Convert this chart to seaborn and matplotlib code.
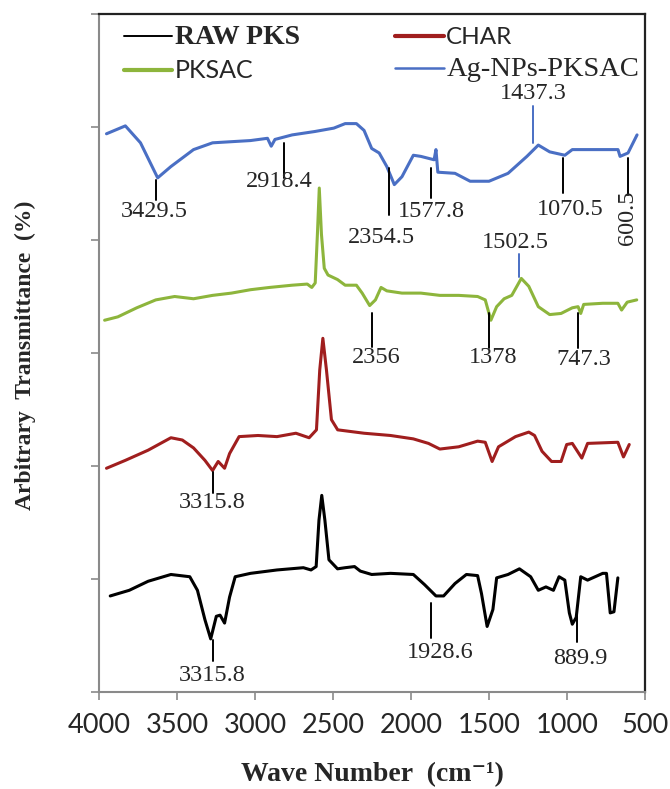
import matplotlib
matplotlib.use("Agg")
import numpy as np
import pandas as pd
import matplotlib.pyplot as plt
from matplotlib.lines import Line2D
from matplotlib.font_manager import FontProperties
import seaborn as sns

# FTIR traces, offset vertically (arbitrary units)
wn_raw = [3928, 3806, 3685, 3539, 3418, 3369, 3321, 3284, 3248, 3224, 3195, 3163, 3127, 3029,
          2859, 2690, 2641, 2608, 2590, 2572, 2552, 2526, 2471, 2422, 2362, 2325, 2252, 2131,
          1985, 1913, 1840, 1791, 1718, 1645, 1573, 1548, 1512, 1475, 1451, 1378, 1305, 1233,
          1184, 1135, 1087, 1051, 1014, 985, 966, 941, 912, 868, 771, 747, 723, 699, 674]
raw = [0.85, 0.90, 0.98, 1.04, 1.02, 0.90, 0.64, 0.47, 0.67, 0.68, 0.61, 0.84, 1.02, 1.05,
       1.08, 1.10, 1.08, 1.11, 1.52, 1.74, 1.52, 1.17, 1.09, 1.10, 1.11, 1.07, 1.04, 1.05,
       1.04, 0.95, 0.85, 0.85, 0.96, 1.04, 1.03, 0.87, 0.58, 0.73, 1.01, 1.04, 1.09, 1.02,
       0.90, 0.93, 0.90, 1.02, 0.99, 0.70, 0.60, 0.66, 1.02, 0.99, 1.05, 1.05, 0.70, 0.71, 1.01]

wn_char = [3952, 3831, 3685, 3539, 3466, 3394, 3321, 3272, 3236, 3195, 3163, 3102, 2981, 2859,
           2738, 2653, 2606, 2585, 2565, 2542, 2510, 2470, 2301, 2131, 1985, 1888, 1815, 1694,
           1573, 1524, 1480, 1439, 1330, 1245, 1208, 1160, 1099, 1038, 1002, 966, 905, 868,
           674, 638, 601]
char = [1.98, 2.05, 2.14, 2.25, 2.23, 2.16, 2.05, 1.96, 2.04, 1.98, 2.11, 2.26, 2.27, 2.26,
        2.29, 2.25, 2.32, 2.85, 3.13, 2.85, 2.41, 2.32, 2.29, 2.27, 2.24, 2.20, 2.15, 2.17,
        2.22, 2.21, 2.04, 2.17, 2.26, 2.30, 2.27, 2.13, 2.04, 2.04, 2.19, 2.20, 2.07, 2.20,
        2.21, 2.08, 2.19]

wn_pksac = [3964, 3879, 3758, 3636, 3515, 3394, 3272, 3151, 3029, 2908, 2762, 2665, 2636,
            2614, 2600, 2588, 2574, 2556, 2532, 2471, 2422, 2350, 2313, 2265, 2228, 2192, 2155,
            2058, 1937, 1815, 1694, 1573, 1524, 1488, 1451, 1403, 1354, 1293, 1245, 1184, 1111,
            1038, 966, 929, 912, 893, 771, 674, 650, 614, 553]
pksac = [3.29, 3.32, 3.40, 3.47, 3.50, 3.48, 3.51, 3.53, 3.56, 3.58, 3.60, 3.61, 3.58,
         3.62, 4.05, 4.46, 4.05, 3.75, 3.69, 3.65, 3.60, 3.60, 3.53, 3.42, 3.47, 3.58, 3.55,
         3.53, 3.53, 3.51, 3.51, 3.50, 3.47, 3.29, 3.41, 3.48, 3.51, 3.66, 3.59, 3.41, 3.34,
         3.35, 3.40, 3.41, 3.35, 3.43, 3.44, 3.44, 3.38, 3.45, 3.47]

wn_ag = [3952, 3831, 3734, 3624, 3539, 3394, 3272, 3151, 3029, 2920, 2896, 2872, 2762, 2617,
         2495, 2422, 2350, 2301, 2252, 2204, 2155, 2107, 2058, 1985, 1937, 1852, 1840, 1828,
         1718, 1621, 1500, 1378, 1257, 1184, 1111, 1014, 966, 844, 673, 660, 609, 551]
ag = [4.94, 5.01, 4.86, 4.55, 4.65, 4.80, 4.86, 4.87, 4.88, 4.90, 4.83, 4.89, 4.93, 4.96,
      4.99, 5.03, 5.03, 4.97, 4.81, 4.77, 4.65, 4.49, 4.56, 4.75, 4.74, 4.71, 4.80, 4.60,
      4.59, 4.52, 4.52, 4.59, 4.74, 4.84, 4.78, 4.75, 4.80, 4.80, 4.80, 4.74, 4.77, 4.93]

samples = ["RAW PKS", "CHAR", "PKSAC", "Ag-NPs-PKSAC"]
colors = {"RAW PKS": "#000000", "CHAR": "#A01E1E",
          "PKSAC": "#8DB53C", "Ag-NPs-PKSAC": "#4A6FC4"}

# peak labels: text, x, line top, line bottom, text position, line colour, rotation
ann_text = ["3429.5", "2918.4", "2354.5", "1577.8", "1437.3", "1070.5", "600.5",
            "1502.5", "2356", "1378", "747.3", "3315.8", "3315.8", "1928.6", "889.9"]
ann_x = [3636, 2811, 2143, 1869, 1215, 1026, 609,
         1310, 2248, 1500, 929, 3272, 3272, 1869, 936]
ann_top = [4.53, 4.86, 4.64, 4.64, 5.19, 4.73, 4.73,
           3.88, 3.35, 3.35, 3.35, 1.95, 0.46, 0.79, 0.70]
ann_bot = [4.35, 4.55, 4.22, 4.37, 4.86, 4.42, 4.40,
           3.67, 3.05, 3.04, 3.04, 1.76, 0.27, 0.48, 0.44]
ann_tx = [3648, 2847, 2192, 1869, 1218, 978, 609,
          1330, 2223, 1475, 893, 3272, 3272, 1815, 917]
ann_ty = [4.25, 4.52, 4.02, 4.25, 5.30, 4.27, 4.20,
          3.98, 2.96, 2.96, 2.94, 1.68, 0.15, 0.35, 0.30]
ann_col = ["black", "black", "black", "black", "#4A6FC4", "black", "black",
           "#4A6FC4", "black", "black", "black", "black", "black", "black", "black"]
ann_rot = [0, 0, 0, 0, 0, 0, 90, 0, 0, 0, 0, 0, 0, 0, 0]

df = pd.concat([
    pd.DataFrame({"wavenumber": wn_raw, "signal": raw, "sample": "RAW PKS"}),
    pd.DataFrame({"wavenumber": wn_char, "signal": char, "sample": "CHAR"}),
    pd.DataFrame({"wavenumber": wn_pksac, "signal": pksac, "sample": "PKSAC"}),
    pd.DataFrame({"wavenumber": wn_ag, "signal": ag, "sample": "Ag-NPs-PKSAC"}),
], ignore_index=True)

sns.set_style("ticks")
plt.rcParams["font.family"] = ["Liberation Serif", "DejaVu Serif"]

fig = plt.figure(figsize=(6.7, 7.89), dpi=100)
ax = fig.add_axes([99 / 670, 97 / 789, 546 / 670, 678 / 789])

sns.lineplot(data=df, x="wavenumber", y="signal", hue="sample", hue_order=samples,
             palette=colors, estimator=None, sort=False, legend=False,
             linewidth=2.2, ax=ax)

for t, x, y0, y1, tx, ty, c, r in zip(ann_text, ann_x, ann_top, ann_bot,
                                      ann_tx, ann_ty, ann_col, ann_rot):
    ax.plot([x, x], [y0, y1], color=c, lw=1.4)
    ax.text(tx, ty, t, ha="center", va="center", rotation=r, fontsize=17.5)

ax.set_xlim(4000, 500)
ax.set_xticks(np.arange(4000, 499, -500))
ax.set_ylim(0, 6)
ax.set_yticks(range(7))
ax.set_yticklabels([])
ax.tick_params(axis="x", direction="out", length=6, width=1.2, color="#8a8a8a",
               labelsize=19.5, pad=9)
ax.tick_params(axis="y", direction="out", length=6, width=1.2, color="#8a8a8a")
for lbl in ax.get_xticklabels():
    lbl.set_fontfamily("Lato")
for s in ["left", "bottom"]:
    ax.spines[s].set_color("#8a8a8a")
    ax.spines[s].set_linewidth(1.5)
for s in ["top", "right"]:
    ax.spines[s].set_color("#222222")
    ax.spines[s].set_linewidth(1.6)

ax.set_xlabel("Wave Number  (cm⁻¹)", fontsize=20, fontweight="bold")
ax.xaxis.set_label_coords(0.5, -(775 - 692) / 678)
ax.xaxis.label.set_va("center")
ax.set_ylabel("Arbitrary  Transmittance  (%)", fontsize=17, fontweight="bold")
ax.yaxis.set_label_coords((25 - 99) / 546, (692 - 355) / 678)
ax.yaxis.label.set_va("center")

# legend: two columns, mixed fonts like the original
leg_order = ["RAW PKS", "PKSAC", "CHAR", "Ag-NPs-PKSAC"]
leg_lw = [1.4, 3.0, 3.0, 1.8]
handles = [Line2D([], [], color=colors[n], lw=w) for n, w in zip(leg_order, leg_lw)]
leg = ax.legend(handles, leg_order, ncol=2, frameon=False, loc="upper left",
                bbox_to_anchor=(0.045, 0.984), borderaxespad=0, borderpad=0,
                handlelength=2.2, handletextpad=0.1, columnspacing=4.3,
                labelspacing=0.4, fontsize=16)
fonts = [FontProperties(family="Liberation Serif", weight="bold", size=20),
         FontProperties(family="Lato", size=18),
         FontProperties(family="Lato", size=17.5),
         FontProperties(family="Liberation Serif", size=20.5)]
for txt, fp in zip(leg.get_texts(), fonts):
    txt.set_fontproperties(fp)

fig.savefig("out.png", dpi=100)
